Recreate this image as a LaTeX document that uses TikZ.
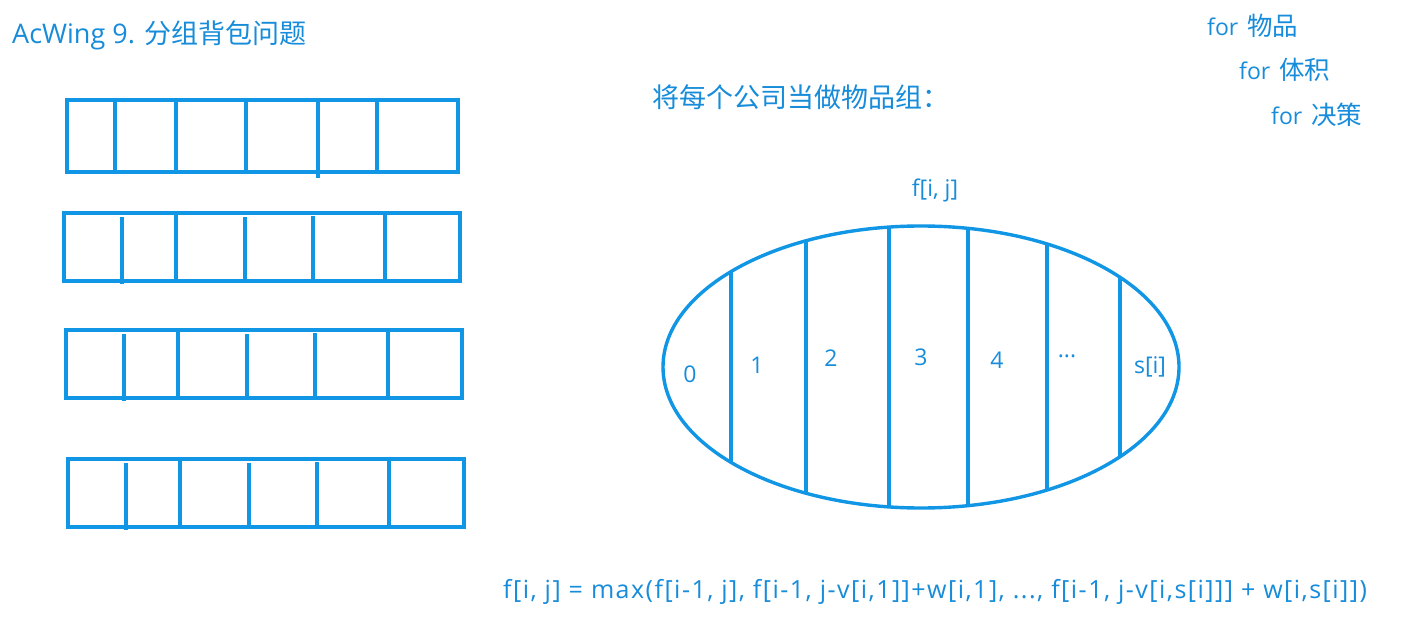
\documentclass[tikz,border=0pt]{standalone}
\usepackage{fontspec}
\setmainfont{Open Sans}
\newfontfamily\cjk{Noto Sans CJK SC}
\newfontfamily\wide[LetterSpace=5.9]{Open Sans}
\definecolor{lc}{RGB}{16,150,228}
\definecolor{tc}{RGB}{22,140,218}
\begin{document}
\begin{tikzpicture}[x=1pt,y=-1pt,
  box/.style={draw=lc, line width=3.4pt},
  sep/.style={draw=lc, line width=3.2pt},
  txt/.style={text=tc, inner sep=0pt, anchor=west},
  lbl/.style={text=tc, inner sep=0pt, font=\fontsize{23}{28}\selectfont}]
\useasboundingbox (0,0) rectangle (1402,620);
\fill[white] (0,0) rectangle (1402,620);

% texts
\node[txt, font=\fontsize{27}{30}\selectfont] (title) at (12,35) {AcWing 9. {\cjk\fontsize{27}{30}\selectfont 分组背包问题}};
\node[txt, font=\fontsize{27}{30}\selectfont\cjk] (group) at (652,97) {将每个公司当做物品组：};
\node[txt, font=\fontsize{23}{28}\selectfont] (for1) at (1207,26) {for\hspace{9pt}{\cjk\fontsize{25.5}{28}\selectfont 物品}};
\node[txt, font=\fontsize{23}{28}\selectfont] (for2) at (1239,70) {for\hspace{9pt}{\cjk\fontsize{25.5}{28}\selectfont 体积}};
\node[txt, font=\fontsize{23}{28}\selectfont] (for3) at (1271,115) {for\hspace{9pt}{\cjk\fontsize{25.5}{28}\selectfont 决策}};
\node[lbl] (fij) at (935,190) {f[i, j]};
\node[txt, font=\fontsize{25}{28}\selectfont\wide] (formula) at (503,592) {f[i, j] = max(f[i-1, j], f[i-1, j-v[i,1]]+w[i,1], ..., f[i-1, j-v[i,s[i]]] + w[i,s[i]])};

% row 1
\draw[box] (67,100) rectangle (458,172);
\draw[sep] (115,100) -- (115,174);
\draw[sep] (176,100) -- (176,172);
\draw[sep] (246,100) -- (246,172);
\draw[sep] (318,100) -- (318,178);
\draw[sep] (377,98) -- (377,172);
% row 2
\draw[box] (64,213) rectangle (460,281);
\draw[sep] (122,217) -- (122,284);
\draw[sep] (176,211) -- (176,281);
\draw[sep] (245,217) -- (245,281);
\draw[sep] (313,216) -- (313,281);
\draw[sep] (385,213) -- (385,281);
% row 3
\draw[box] (66,330) rectangle (462,398);
\draw[sep] (124,334) -- (124,401);
\draw[sep] (178,328) -- (178,398);
\draw[sep] (247,334) -- (247,398);
\draw[sep] (315,333) -- (315,398);
\draw[sep] (388,330) -- (388,398);
% row 4
\draw[box] (68,459) rectangle (464,527);
\draw[sep] (126,463) -- (126,530);
\draw[sep] (180,457) -- (180,527);
\draw[sep] (249,463) -- (249,527);
\draw[sep] (317,462) -- (317,527);
\draw[sep] (389,459) -- (389,527);

% ellipse
\begin{scope}
\clip (921,367) ellipse [x radius=258pt, y radius=141pt];
\foreach \x in {731,806,889,968,1047,1120} \draw[sep] (\x,200) -- (\x,540);
\end{scope}
\draw[box] (921,367) ellipse [x radius=258pt, y radius=141pt];

\node[lbl] (c0) at (690,374) {0};
\node[lbl] (c1) at (757,365) {1};
\node[lbl] (c2) at (831,358) {2};
\node[lbl] (c3) at (921,357) {3};
\node[lbl] (c4) at (997,360) {4};
\node[lbl] (cd) at (1067,356) {...};
\node[lbl] (cs) at (1150,367) {s[i]};
\end{tikzpicture}
\end{document}
